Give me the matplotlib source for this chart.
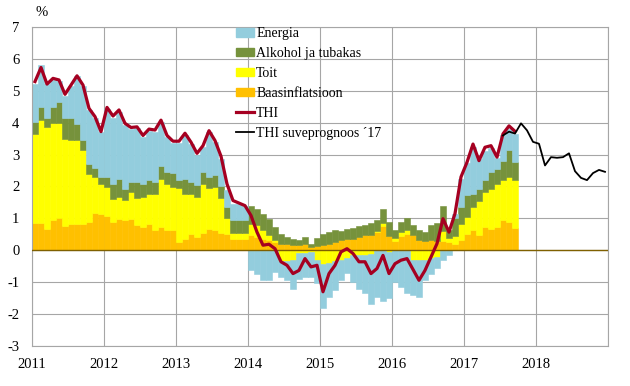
import numpy as np
import matplotlib.pyplot as plt
from matplotlib.patches import Patch
from matplotlib.lines import Line2D

plt.rcParams['font.family'] = ['Liberation Serif', 'DejaVu Serif']
plt.rcParams['axes.unicode_minus'] = False

# monthly contributions, Jan 2011 .. Sep 2017 (percentage points)
base = [
    0.86, 0.86, 0.68, 0.95, 1.00, 0.76, 0.81, 0.81, 0.82, 0.89, 1.16, 1.13,
    1.07, 0.89, 0.98, 0.95, 0.97, 0.79, 0.74, 0.82, 0.63, 0.74, 0.65, 0.63,
    0.26, 0.34, 0.50, 0.42, 0.55, 0.68, 0.65, 0.55, 0.50, 0.35, 0.35, 0.35,
    0.47, 0.42, 0.36, 0.31, 0.26, 0.21, 0.19, 0.18, 0.16, 0.19, 0.10, 0.12,
    0.16, 0.20, 0.26, 0.31, 0.36, 0.36, 0.42, 0.47, 0.47, 0.57, 0.75, 0.45,
    0.30, 0.45, 0.50, 0.47, 0.33, 0.30, 0.31, 0.28, 0.30, 0.25, 0.20, 0.31,
    0.52, 0.63, 0.47, 0.73, 0.68, 0.73, 0.95, 0.90, 0.70]
food = [
    2.80, 3.22, 3.19, 3.03, 2.98, 2.74, 2.66, 2.64, 2.32, 1.51, 1.14, 0.96,
    0.92, 0.73, 0.70, 0.62, 0.86, 0.86, 0.94, 0.96, 1.15, 1.51, 1.44, 1.36,
    1.68, 1.44, 1.28, 1.26, 1.54, 1.26, 1.34, 1.10, 0.50, 0.20, 0.20, 0.20,
    0.36, 0.36, 0.27, 0.16, 0.05, -0.35, -0.35, -0.30, -0.10, -0.10, -0.05, -0.30,
    -0.42, -0.40, -0.35, -0.30, -0.25, -0.15, -0.15, -0.15, -0.12, 0.05, 0.10, -0.05,
    0.10, 0.12, 0.15, -0.30, -0.30, -0.30, -0.25, -0.20, 0.30, 0.15, 0.25, 0.52,
    0.52, 0.72, 1.09, 1.09, 1.25, 1.35, 1.24, 1.40, 1.50]
alcohol = [
    0.37, 0.42, 0.27, 0.52, 0.66, 0.64, 0.67, 0.51, 0.32, 0.30, 0.27, 0.21,
    0.31, 0.45, 0.55, 0.35, 0.30, 0.50, 0.40, 0.42, 0.37, 0.39, 0.37, 0.42,
    0.26, 0.47, 0.37, 0.36, 0.37, 0.36, 0.37, 0.35, 0.35, 0.40, 0.40, 0.40,
    0.57, 0.52, 0.52, 0.52, 0.42, 0.31, 0.23, 0.18, 0.15, 0.23, 0.10, 0.28,
    0.34, 0.37, 0.37, 0.31, 0.30, 0.34, 0.33, 0.33, 0.38, 0.33, 0.45, 0.45,
    0.23, 0.32, 0.37, 0.31, 0.30, 0.27, 0.47, 0.59, 0.80, 0.25, 0.55, 0.52,
    0.68, 0.40, 0.37, 0.37, 0.52, 0.47, 0.62, 0.83, 0.57]
energy = [
    1.17, 1.30, 1.06, 0.85, 0.66, 0.71, 1.01, 1.49, 1.69, 1.70, 1.58, 1.40,
    2.13, 2.09, 2.12, 2.01, 1.67, 1.67, 1.47, 1.55, 1.57, 1.39, 1.09, 0.96,
    1.17, 1.37, 1.19, 0.96, 0.77, 1.40, 1.04, 0.85, 0.55, 0.50, 0.50, 0.45,
    -0.63, -0.73, -0.94, -0.94, -0.68, -0.48, -0.59, -0.90, -0.79, -0.73, -0.78, -0.74,
    -1.40, -1.06, -0.90, -0.64, -0.45, -0.85, -1.05, -1.20, -1.55, -1.46, -1.60, -1.45,
    -0.99, -1.15, -1.35, -1.10, -1.16, -0.64, -0.48, -0.37, -0.30, -0.16, 0.15, 0.89,
    1.03, 1.50, 0.92, 0.91, 0.75, 0.35, 0.79, 0.67, 0.88]
thi = [
    5.29, 5.73, 5.21, 5.39, 5.34, 4.89, 5.18, 5.47, 5.18, 4.45, 4.19, 3.72,
    4.48, 4.21, 4.40, 3.98, 3.85, 3.87, 3.60, 3.80, 3.77, 4.08, 3.60, 3.42,
    3.42, 3.67, 3.39, 3.04, 3.28, 3.75, 3.44, 2.95, 2.08, 1.56, 1.48, 1.40,
    1.09, 0.57, 0.16, 0.19, 0.05, -0.36, -0.47, -0.73, -0.63, -0.26, -0.52, -0.47,
    -1.30, -0.73, -0.47, -0.05, 0.05, -0.10, -0.36, -0.36, -0.73, -0.57, -0.16, -0.73,
    -0.42, -0.31, -0.26, -0.60, -0.94, -0.63, -0.21, 0.21, 0.99, 0.57, 1.15, 2.30,
    2.76, 3.33, 2.81, 3.23, 3.28, 2.92, 3.65, 3.90, 3.73]
# summer forecast, Jul 2017 .. Dec 2018
forecast = [3.60, 3.72, 3.66, 3.98, 3.76, 3.40, 3.34, 2.66, 2.92, 2.90,
            2.92, 3.04, 2.48, 2.27, 2.20, 2.42, 2.52, 2.46]
forecast_start = 78

years = ['2011', '2012', '2013', '2014', '2015', '2016', '2017', '2018', '']

c_energy = '#93CDDD'
c_alc = '#76923C'
c_food = '#FFFF00'
c_base = '#FFC000'
c_thi = '#A50021'

fig = plt.figure(figsize=(6.3, 3.86), dpi=100)
ax = fig.add_axes([32 / 630, 40 / 386, 576 / 630, 319 / 386])

n = len(base)
x = np.arange(n) + 0.5
pos = np.zeros(n)
neg = np.zeros(n)
for vals, col in [(base, c_base), (food, c_food), (alcohol, c_alc), (energy, c_energy)]:
    v = np.array(vals)
    bottom = np.where(v >= 0, pos, neg)
    ax.bar(x, v, width=1.0, bottom=bottom, color=col, edgecolor=col, linewidth=0.4, zorder=2)
    pos += np.clip(v, 0, None)
    neg += np.clip(v, None, 0)

ax.axhline(0, color='#7f6000', lw=1.0, zorder=3)
ax.plot(x, thi, color=c_thi, lw=2.3, zorder=4, solid_joinstyle='round')
xf = np.arange(forecast_start, forecast_start + len(forecast)) + 0.5
ax.plot(xf, forecast, color='black', lw=1.3, zorder=5)

ax.set_xlim(0, 96)
ax.set_ylim(-3, 7)
ax.set_xticks(range(0, 97, 12))
ax.set_xticklabels(years)
ax.set_yticks(range(-3, 8))
ax.grid(color='#a6a6a6', lw=0.8)
ax.set_axisbelow(True)
for s in ax.spines.values():
    s.set_color('#a6a6a6')
    s.set_linewidth(0.8)
ax.tick_params(length=0, labelsize=10.5)
ax.tick_params(axis='y', pad=9)
ax.tick_params(axis='x', pad=9)

fig.text(42 / 630, 1 - 13 / 386, '%', ha='center', va='center', fontsize=10.5)

handles = [
    Patch(color=c_energy, label='Energia'),
    Patch(color=c_alc, label='Alkohol ja tubakas'),
    Patch(color=c_food, label='Toit'),
    Patch(color=c_base, label='Baasinflatsioon'),
    Line2D([], [], color=c_thi, lw=2.3, label='THI'),
    Line2D([], [], color='black', lw=1.3, label='THI suveprognoos ´17'),
]
ax.legend(handles=handles, loc='upper left', bbox_to_anchor=(0.354, 1.0),
          frameon=False, fontsize=10, handlelength=1.3, handleheight=0.6,
          handletextpad=0.15, labelspacing=0.5, borderpad=0, borderaxespad=0)

fig.savefig('out.png', dpi=100)
